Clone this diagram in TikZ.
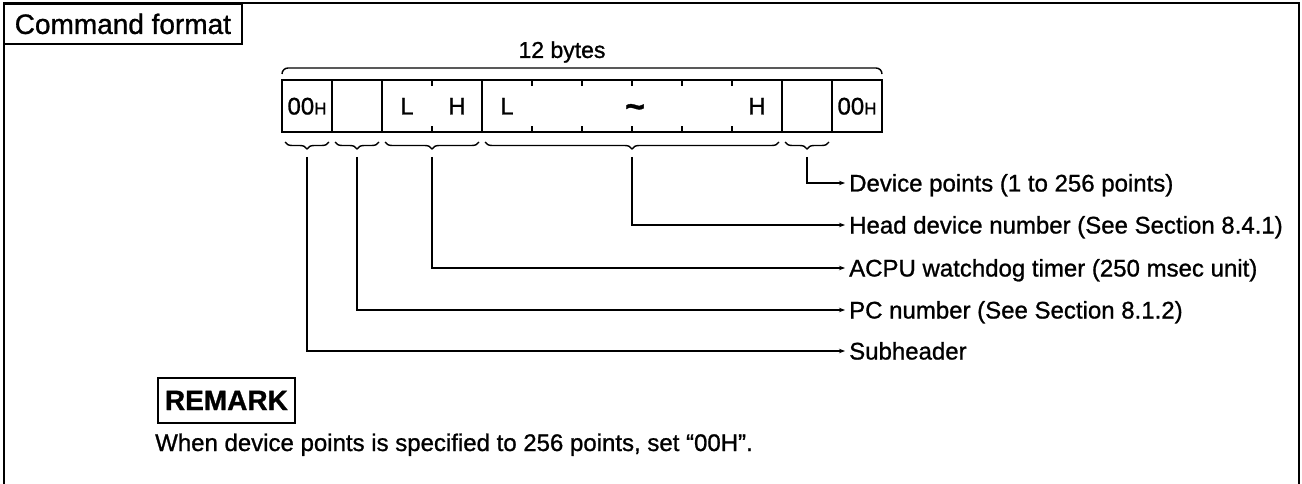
\documentclass[tikz,border=0pt]{standalone}
\usepackage{fontspec}
\setmainfont{Liberation Sans}[FakeBold=1]
\usetikzlibrary{arrows.meta,positioning,calc,decorations.pathreplacing}

\begin{document}
\begin{tikzpicture}[
  x=1pt, y=-1pt,
  fld/.style={draw, line width=1.7pt, outer sep=0pt, inner sep=0pt,
              minimum height=52pt},
  byt/.style={inner sep=0pt, text height=17pt, text depth=0pt,
              font=\fontsize{24}{28}\selectfont},
  tick/.style={line width=1.5pt},
  brc/.style={decorate, decoration={brace, amplitude=7pt, mirror},
              line width=1.4pt},
  lbl/.style={anchor=west, inner ysep=0pt, inner xsep=4pt,
              text height=22pt, text depth=5pt, font=\fontsize{24}{28}\selectfont},
  ar/.style={-{Stealth[length=6pt,width=4.5pt]}, line width=1.4pt},
  tag/.style={draw, line width=1.8pt, inner sep=0pt}
]
\useasboundingbox (0,0) rectangle (1302,484);

% frame and title
\draw[line width=2.2pt] (4,484) -- (4,3) -- (1299,3) -- (1299,484);
\node[tag, anchor=north west, minimum width=238pt, minimum height=40pt,
      font=\fontsize{28}{32}\selectfont] (title) at (3,3) {Command format};

% byte fields
\node[fld, minimum width=50pt, anchor=north west] (sub) at (282,80) {};
\node[fld, minimum width=50pt, right=0pt of sub] (pc) {};
\node[fld, minimum width=100pt, right=0pt of pc] (wdt) {};
\node[fld, minimum width=300pt, right=0pt of wdt] (head) {};
\node[fld, minimum width=50pt, right=0pt of head] (pts) {};
\node[fld, minimum width=50pt, right=0pt of pts] (tail) {};

\node[byt] at (sub) {00{\fontsize{17}{20}\selectfont H}};
\node[byt] at (tail) {00{\fontsize{17}{20}\selectfont H}};
\node[byt] at ($(wdt.west)+(25,0)$) {L};
\node[byt] at ($(wdt.east)+(-25,0)$) {H};
\node[byt] at ($(head.west)+(25,0)$) {L};
\node[byt, text height=24pt, xshift=3pt, font=\bfseries\fontsize{34}{36}\selectfont]
  at (head.center) {\char"7E};
\node[byt] at ($(head.east)+(-25,0)$) {H};

% ticks between bytes
\draw[tick] ($(wdt.north west)+(50,0)$) -- ++(0,6);
\draw[tick] ($(wdt.south west)+(50,0)$) -- ++(0,-6);
\foreach \k in {1,...,5} {
  \draw[tick] ($(head.north west)+(50*\k,0)$) -- ++(0,6);
  \draw[tick] ($(head.south west)+(50*\k,0)$) -- ++(0,-6);
}

% 12 bytes bracket
\draw[line width=1.4pt, rounded corners=6pt]
  ($(sub.north west)+(0,-6)$) -- ($(sub.north west)+(0,-12)$)
  -- ($(tail.north east)+(0,-12)$) -- ($(tail.north east)+(0,-6)$);
\node[font=\fontsize{23}{27}\selectfont, inner sep=0pt] (bytes) at (562,52) {12 bytes};

% braces under the fields
\foreach \f in {sub,pc,wdt,head,pts} {
  \draw[brc] ($(\f.south west)+(3,10)$) -- ($(\f.south east)+(-3,10)$);
  \coordinate (c\f) at ($(\f.south)+(0,25)$);
}

% labels
\node[lbl] (lpts) at (845,183) {Device points (1 to 256 points)};
\node[lbl] (lhead) at (845,225) {Head device number (See Section 8.4.1)};
\node[lbl] (lwdt) at (845,268) {ACPU watchdog timer (250 msec unit)};
\node[lbl] (lpc) at (845,310) {PC number (See Section 8.1.2)};
\node[lbl] (lsub) at (845,351) {Subheader};

\draw[ar] (cpts) |- (lpts.west);
\draw[ar] (chead) |- (lhead.west);
\draw[ar] (cwdt) |- (lwdt.west);
\draw[ar] (cpc) |- (lpc.west);
\draw[ar] (csub) |- (lsub.west);

% remark
\node[tag, anchor=north west, minimum width=137pt, minimum height=45pt,
      font=\bfseries\fontsize{28}{32}\selectfont] (remark) at (157,377) {REMARK};
\node[anchor=base west, inner sep=0pt, font=\fontsize{24}{28}\selectfont]
  (note) at (155,451) {When device points is specified to 256 points, set “00H”.};
\end{tikzpicture}
\end{document}
